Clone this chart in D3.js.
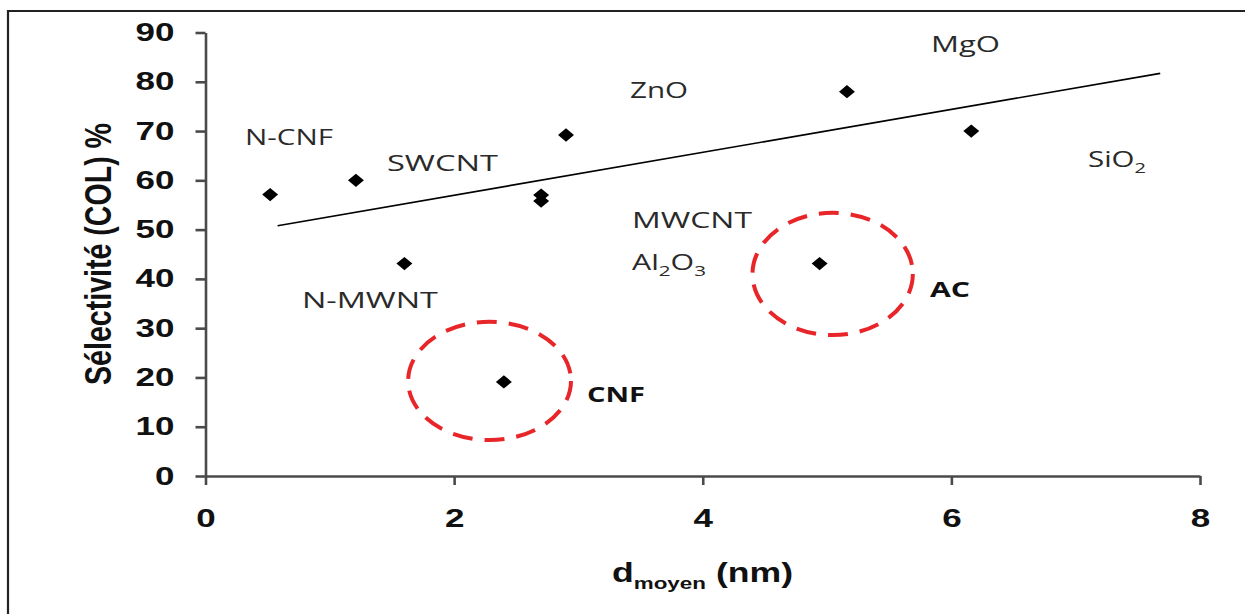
<!DOCTYPE html>
<html><head><meta charset="utf-8">
<script src="https://cdn.jsdelivr.net/npm/d3@7"></script>
<style>body{margin:0;background:#fff} svg{display:block}</style>
</head><body><svg id="c" width="1245" height="614"></svg>
<script>
// ---- data ----
const xTicks = [0, 2, 4, 6, 8];
const yTicks = [0, 10, 20, 30, 40, 50, 60, 70, 80, 90];
const names     = ["N-CNF", "SWCNT", "N-MWNT", "MWCNT", "Al2O3", "ZnO", "CNF", "AC", "MgO", "SiO2"];
const dMoyen    = [0.52, 1.21, 1.60, 2.70, 2.70, 2.90, 2.40, 4.94, 5.16, 6.16];
const selectCOL = [57.1, 60.0, 43.1, 57.0, 55.8, 69.2, 19.1, 43.1, 78.0, 70.0];
const trendX = [0.58, 7.68];
const trendY = [50.8, 81.7];
// highlighted groups (dashed ellipses): x extent and y extent in data units
const ringNames = ["CNF", "AC"];
const ringX = [[1.63, 2.94], [4.40, 5.69]];
const ringY = [[7.3, 31.3], [28.6, 53.4]];
// label anchors (left x, baseline y) in data units
const labelText = ["N-CNF", "SWCNT", "ZnO", "MgO", "SiO2", "MWCNT", "Al2O3", "N-MWNT", "CNF", "AC"];
const labelX    = [0.318, 1.460, 3.415, 5.836, 7.099, 3.431, 3.431, 0.776, 3.069, 5.828];
const labelY    = [67.2, 61.8, 76.7, 86.0, 62.7, 50.3, 41.8, 34.1, 15.0, 36.3];
const labelBold = [false, false, false, false, false, false, false, false, true, true];

// ---- layout ----
const svg = d3.select("#c");
const SX = 1.4; // horizontal stretch of the original picture
const x = d3.scaleLinear().domain([0, 8]).range([205.5, 1200]);
const y = d3.scaleLinear().domain([0, 90]).range([476, 32.5]);

// frame
svg.append("path").attr("d", "M8,614 L8,11 L1245,11")
  .attr("fill", "none").attr("stroke", "#222").attr("stroke-width", 2.2);

// axes
const axisColor = "#4a4a4a";
const gy = svg.append("g").attr("transform", `translate(${x(0)},0)`)
  .call(d3.axisLeft(y).tickValues(yTicks).tickSize(10).tickSizeOuter(0));
const gx = svg.append("g").attr("transform", `translate(0,${y(0)})`)
  .call(d3.axisBottom(x).tickValues(xTicks).tickSize(9).tickSizeOuter(0).tickPadding(24));
[gx, gy].forEach(g => {
  g.select(".domain").attr("stroke", axisColor).attr("stroke-width", 2.6);
  g.selectAll(".tick line").attr("stroke", axisColor).attr("stroke-width", 2.6);
  g.selectAll(".tick text").attr("fill", "#111")
    .style("font-family", "'Liberation Sans', Arial, sans-serif")
    .style("font-size", "25px").style("font-weight", "bold");
});
gy.selectAll(".tick text").attr("x", -31 / SX).attr("transform", `scale(${SX},1)`);
gx.selectAll(".tick text").attr("transform", `scale(${SX},1)`);

// axis titles
svg.append("text")
  .attr("transform", `translate(111,254) scale(${SX},1) rotate(-90)`)
  .attr("text-anchor", "middle")
  .attr("textLength", 262).attr("lengthAdjust", "spacingAndGlyphs")
  .style("font-family", "'Liberation Sans', Arial, sans-serif")
  .style("font-size", "27px").style("font-weight", "bold").attr("fill", "#111")
  .text("Sélectivité (COL) %");

const xt = svg.append("text").attr("x", 612).attr("y", 582)
  .attr("textLength", 181).attr("lengthAdjust", "spacingAndGlyphs")
  .style("font-family", "'Liberation Sans', Arial, sans-serif")
  .style("font-size", "27px").style("font-weight", "bold").attr("fill", "#111");
xt.append("tspan").text("d");
xt.append("tspan").attr("dy", 7).style("font-size", "17px").text("moyen");
xt.append("tspan").attr("dy", -7).text(" (nm)");

// trend line
svg.append("line")
  .attr("x1", x(trendX[0])).attr("y1", y(trendY[0]))
  .attr("x2", x(trendX[1])).attr("y2", y(trendY[1]))
  .attr("stroke", "#000").attr("stroke-width", 1.6);

// dashed ellipses
svg.selectAll("ellipse.ring").data(ringNames).enter().append("ellipse")
  .attr("class", "ring")
  .attr("cx", (d, i) => (x(ringX[i][0]) + x(ringX[i][1])) / 2)
  .attr("cy", (d, i) => (y(ringY[i][0]) + y(ringY[i][1])) / 2)
  .attr("rx", (d, i) => (x(ringX[i][1]) - x(ringX[i][0])) / 2)
  .attr("ry", (d, i) => (y(ringY[i][0]) - y(ringY[i][1])) / 2)
  .attr("fill", "none").attr("stroke", "#e8262a").attr("stroke-width", 4)
  .attr("stroke-dasharray", "20 12");

// points (diamonds)
const sym = d3.symbol().type(d3.symbolSquare).size(88);
svg.selectAll("path.pt").data(names).enter().append("path")
  .attr("class", "pt")
  .attr("d", sym)
  .attr("transform", (d, i) => `translate(${x(dMoyen[i])},${y(selectCOL[i])}) scale(1.2,1) rotate(45)`)
  .attr("fill", "#000");

// labels
const labelWidth = {"N-CNF": 88, "SWCNT": 111, "ZnO": 58, "MgO": 69, "SiO2": 58,
  "MWCNT": 120, "Al2O3": 74, "N-MWNT": 136, "CNF": 58, "AC": 40};
labelText.forEach((t, i) => {
  const el = svg.append("text").attr("x", x(labelX[i])).attr("y", y(labelY[i]))
    .attr("textLength", labelWidth[t]).attr("lengthAdjust", "spacingAndGlyphs")
    .style("font-family", "'Open Sans', 'Noto Sans', sans-serif")
    .style("font-size", "22px")
    .style("font-weight", labelBold[i] ? "bold" : "normal")
    .attr("fill", labelBold[i] ? "#111" : "#2a2a2a");
  const m = t.match(/^([A-Za-z]+?)(\d)?([A-Za-z]*)(\d)?$/);
  if (t === "Al2O3") {
    el.append("tspan").text("Al");
    el.append("tspan").attr("dy", 6).style("font-size", "15px").text("2");
    el.append("tspan").attr("dy", -6).text("O");
    el.append("tspan").attr("dy", 6).style("font-size", "15px").text("3");
  } else if (t === "SiO2") {
    el.append("tspan").text("SiO");
    el.append("tspan").attr("dy", 6).style("font-size", "15px").text("2");
  } else {
    el.text(t);
  }
});
</script></body></html>
